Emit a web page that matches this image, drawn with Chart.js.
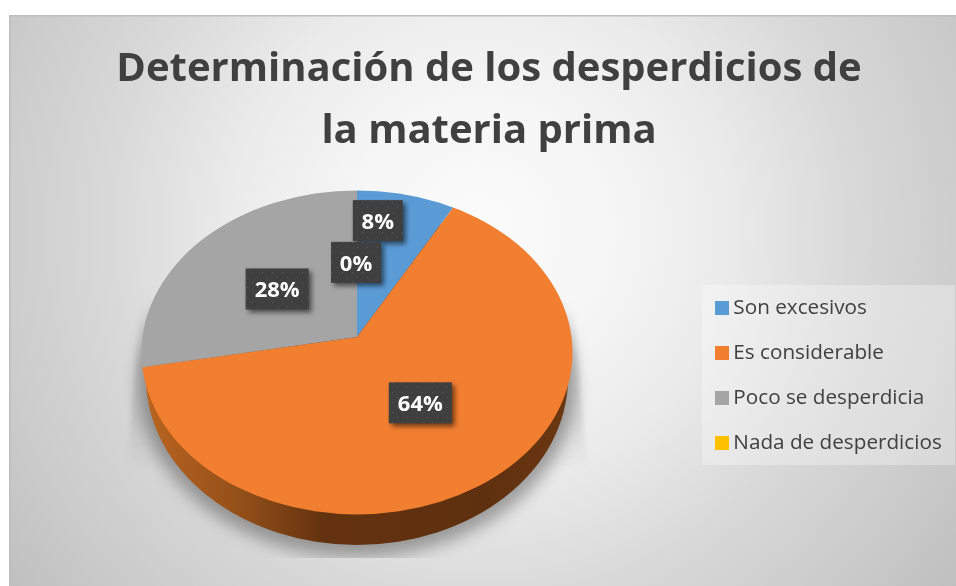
<!DOCTYPE html>
<html><head><meta charset="utf-8">
<style>html,body{margin:0;padding:0;background:#fff}canvas{display:block}</style>
<script src="https://cdn.jsdelivr.net/npm/chart.js@4"></script>
</head><body><canvas id="c" width="956" height="586"></canvas>
<script>
const titleLines = ['Determinación de los desperdicios de', 'la materia prima'];
const categories = ['Son excesivos', 'Es considerable', 'Poco se desperdicia', 'Nada de desperdicios'];
const values = [8, 64, 28, 0];
const colors = ['#5b9bd5', '#f27e30', '#a5a5a5', '#ffc000'];
const labelText = ['8%', '64%', '28%', '0%'];
const FONT = '"Open Sans", sans-serif';

const VIEW = {apexX: 357, apexY: 337, squash: 0.74, cx: 357, cy: 352.4, rx: 215.5, ry: 162,
  baseCy: 378, baseRx: 211, baseRy: 167};
const labelNudge = [[-14,-16],[-19,-18],[28,18],[-1,29]];

function dots(){
  const p = document.createElement('canvas'); p.width = 10; p.height = 10;
  const g = p.getContext('2d');
  g.fillStyle = '#3f3f3f'; g.fillRect(0,0,10,10);
  g.fillStyle = '#5a5a5a'; g.fillRect(2,2,1,1); g.fillRect(7,7,1,1);
  return p;
}
const scene = {
  id: 'scene',
  afterLayout(chart){
    const l = chart.legend;
    const w = l.width, h = l.height;
    l.left = 696.7; l.right = 696.7 + w; l.top = 273.4; l.bottom = 273.4 + Math.max(h, 300);
  },
  beforeDraw(chart){
    const c = chart.ctx;
    c.save();
    c.fillStyle = '#fff'; c.fillRect(0,0,956,586);
    const g = c.createRadialGradient(480,230,0,480,230,620);
    g.addColorStop(0,'#fbfbfb'); g.addColorStop(0.2,'#f6f6f6'); g.addColorStop(0.4,'#ebebeb');
    g.addColorStop(0.6,'#d9d9d9'); g.addColorStop(0.8,'#cbcbcb'); g.addColorStop(1,'#bcbcbc');
    c.fillStyle = g; c.fillRect(9,15,947,571);
    c.fillStyle = '#bdbdbd'; c.fillRect(9,15,947,1.5); c.fillRect(9,15,1.5,571);
    c.fillStyle = 'rgba(255,255,255,0.3)'; c.fillRect(702,285,253,180);
    c.restore();
  },
  beforeDatasetsDraw(chart){
    const c = chart.ctx, V = VIEW, arc = chart.getDatasetMeta(0).data[0];
    c.save();
    // faint wide cast shape
    c.save();
    const f = c.createLinearGradient(0,310,0,470);
    f.addColorStop(0,'rgba(120,120,120,0.0)'); f.addColorStop(0.3,'rgba(120,120,120,0.22)');
    f.addColorStop(0.7,'rgba(120,120,120,0.16)'); f.addColorStop(1,'rgba(120,120,120,0.0)');
    c.filter = 'blur(2px)';
    c.fillStyle = f;
    c.beginPath();
    c.moveTo(V.cx-217,310); c.lineTo(V.cx+217,310); c.lineTo(V.cx+230,470); c.lineTo(V.cx-230,470);
    c.closePath(); c.fill();
    c.restore();
    // close contact shadow, cut off at the floor line
    c.save();
    c.beginPath(); c.rect(100,300,520,258); c.clip();
    c.filter = 'blur(8px)';
    c.fillStyle = 'rgba(80,80,80,0.5)';
    c.beginPath(); c.ellipse(V.cx,V.baseCy+6,V.baseRx+7,V.baseRy+6,0,0,Math.PI*2); c.fill();
    c.restore();
    // side wall
    const g = c.createLinearGradient(V.cx-V.baseRx,0,V.cx+V.baseRx,0);
    g.addColorStop(0,'#b9641f'); g.addColorStop(0.22,'#94501a'); g.addColorStop(0.42,'#64320f');
    g.addColorStop(0.8,'#5f300f'); g.addColorStop(1,'#6b3712');
    c.fillStyle = g;
    c.beginPath(); c.ellipse(V.cx,V.baseCy,V.baseRx,V.baseRy,0,0,Math.PI*2); c.fill();
    // top face: a flattened pie seen in perspective
    c.beginPath(); c.ellipse(V.cx,V.cy,V.rx,V.ry,0,0,Math.PI*2); c.clip();
    c.translate(V.apexX,V.apexY); c.scale(1,V.squash); c.translate(-arc.x,-arc.y);
  },
  afterDatasetsDraw(chart){
    const c = chart.ctx, V = VIEW;
    c.restore();
    const pat = c.createPattern(dots(),'repeat');
    c.save();
    c.font = 'bold 22px ' + FONT;
    c.textAlign = 'center'; c.textBaseline = 'middle';
    chart.getDatasetMeta(0).data.forEach((a,i)=>{
      const mid = (a.startAngle + a.endAngle)/2;
      const px = V.apexX + 140*Math.cos(mid) + labelNudge[i][0];
      const py = V.apexY + 140*V.squash*Math.sin(mid) + labelNudge[i][1];
      const w = labelText[i].length > 2 ? 63 : 50, h = 41;
      c.save();
      c.shadowColor = 'rgba(0,0,0,0.55)'; c.shadowOffsetX = 3; c.shadowOffsetY = 3; c.shadowBlur = 5;
      c.fillStyle = pat; c.fillRect(px-w/2,py-h/2,w,h);
      c.restore();
      c.fillStyle = '#fff'; c.fillText(labelText[i],px,py+2);
    });
    c.restore();
  }
};
new Chart(document.getElementById('c'),{
  type:'pie',
  data:{labels:categories,datasets:[{data:values,backgroundColor:colors,borderWidth:0,radius:340,clip:false}]},
  plugins:[scene],
  options:{
    responsive:false,animation:false,events:[],
    layout:{padding:{left:22,top:39}},
    plugins:{
      tooltip:{enabled:false},
      title:{display:true,text:titleLines,color:'#404040',
        font:{family:FONT,size:40,weight:'bold',lineHeight:1.55},padding:{top:0,bottom:10}},
      legend:{position:'right',align:'start',
        labels:{usePointStyle:true,pointStyle:'rect',boxWidth:2,boxHeight:14,padding:24.3,color:'#404040',
          font:{family:FONT,size:20.7}}}
    }
  }
});
</script></body></html>
